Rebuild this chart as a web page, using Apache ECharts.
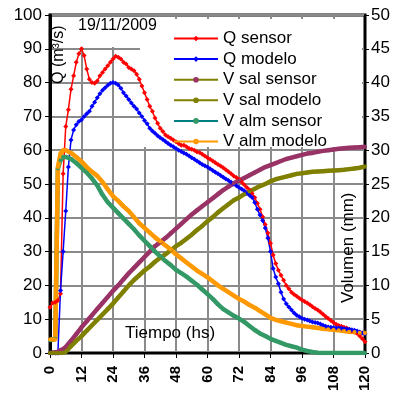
<!DOCTYPE html>
<html>
<head>
<meta charset="utf-8">
<script src="https://cdn.jsdelivr.net/npm/echarts@6/dist/echarts.min.js"></script>
<style>
  html, body { margin: 0; padding: 0; background: #fff; }
  #main { width: 398px; height: 396px; }
</style>
</head>
<body>
<div id="main"></div>
<script>
// horas (eje x)
const hoursQ = Array.from({ length: 121 }, (_, i) => i)
const hoursV = [0, 1, 2, 3, 4, 5, 6].concat(Array.from({ length: 57 }, (_, i) => 8 + 2 * i))

const xTicks = [0, 12, 24, 36, 48, 60, 72, 84, 96, 108, 120]

// caudal (m3/s), eje izquierdo
const qSensor = [
  13.5, 14.8, 15, 15.5, 17.5, 53, 67, 72, 78, 82,
  86, 88.5, 90, 88, 84, 81, 80, 79.8, 80.5, 82,
  83, 84, 85, 86, 87, 87.8, 87.5, 87, 86, 85.5,
  84.5, 84, 83.5, 82.5, 81, 79, 77, 75, 73, 71.5,
  69.5, 68, 66.5, 65.5, 64.5, 64, 63.5, 63, 62.5, 62,
  61.5, 61.5, 61, 60.5, 60.3, 60, 59.5, 59.3, 58.8, 58.3,
  57.8, 57.3, 56.8, 56.3, 55.8, 55.3, 54.8, 54.2, 53.6, 53,
  52.4, 51.9, 51.4, 50.6, 49.8, 49, 48.2, 47.2, 46, 44.3,
  42.5, 40.3, 38, 35.5, 32.5, 29, 26.5, 24.5, 23, 21.5,
  20, 19, 18, 17.3, 16.8, 16.2, 15.7, 15.2, 14.8, 14.3,
  13.7, 13.2, 12.7, 12.1, 11.5, 10.8, 10.2, 9.6, 9, 8.5,
  8.1, 7.9, 7.6, 7.4, 7, 6.6, 6.2, 5.8, 5, 4.2,
  3.3
]
const qModelo = [
  0, 0, 0, 0, 18.5, 30, 42, 55, 63, 66,
  67.5, 68.5, 69, 70, 70.8, 71.5, 73, 74.2, 75.5, 76.7,
  77.7, 78.5, 79.2, 79.8, 80, 79.8, 79.3, 78.3, 77, 76,
  75, 74, 73, 72.2, 71, 70, 68.8, 67.8, 66.5, 65.7,
  65, 64.3, 63.7, 63.2, 62.6, 62, 61.5, 61, 60.5, 60,
  59.6, 59.2, 58.8, 58.3, 57.8, 57.3, 56.8, 56.3, 55.8, 55.4,
  55, 54.5, 54, 53.5, 53, 52.5, 52, 51.5, 51, 50.5,
  50, 49.5, 49, 48.5, 48, 47.3, 46.7, 46, 44.5, 42.5,
  40.8, 39.2, 37, 34, 30, 25, 22.5, 20.5, 18, 16,
  14.6, 13.6, 12.7, 11.8, 11.2, 10.7, 10.3, 10, 9.8, 9.5,
  9.2, 9, 8.9, 8.6, 8.2, 7.9, 7.7, 7.6, 7.5, 7.4,
  7.4, 7.3, 7.2, 7.1, 7, 6.9, 6.7, 6.5, 6.2, 5.9,
  5.7
]

// volumen (mm), eje derecho
const vSalSensor = [
  0, 0.05, 0.1, 0.2, 0.4, 0.6, 0.9,
  1.8, 2.8, 3.8, 4.7, 5.6, 6.5, 7.4, 8.3, 9.2, 10,
  10.9, 11.8, 12.6, 13.4, 14.2, 15, 15.8, 16.4, 17, 17.7,
  18.4, 19.1, 19.8, 20.5, 21.1, 21.7, 22.3, 22.9, 23.5, 24.1,
  24.6, 25.1, 25.5, 25.9, 26.3, 26.7, 27.1, 27.5, 27.8, 28.1,
  28.4, 28.7, 28.9, 29.1, 29.3, 29.5, 29.6, 29.75, 29.9, 30,
  30.1, 30.2, 30.3, 30.35, 30.4, 30.45, 30.5
]
const vSalModelo = [
  0, 0, 0, 0, 0, 0.05, 0.2,
  1, 1.8, 2.5, 3.3, 4.1, 4.9, 5.7, 6.5, 7.3, 8.2,
  9.1, 10, 10.8, 11.5, 12.2, 12.8, 13.5, 14.1, 14.6, 15.2,
  15.8, 16.3, 16.9, 17.5, 18.2, 18.8, 19.5, 20.1, 20.8, 21.4,
  22, 22.6, 23, 23.5, 23.9, 24.3, 24.7, 25, 25.4, 25.7,
  25.9, 26.1, 26.3, 26.5, 26.6, 26.7, 26.8, 26.85, 26.9, 26.95,
  27, 27.05, 27.1, 27.2, 27.3, 27.4, 27.6
]
const vAlmSensor = [
  1.9, 2, 2.1, 27.3, 28.5, 29, 29,
  28.7, 28.1, 27.4, 26.7, 25.8, 24.8, 23.4, 22.3, 21.5, 20.7,
  19.9, 19.1, 18.3, 17.4, 16.6, 15.8, 15, 14.3, 13.6, 13,
  12.3, 11.8, 11.3, 10.7, 10.1, 9.4, 8.7, 8, 7.2, 6.5,
  6, 5.5, 5.1, 4.6, 4, 3.4, 2.9, 2.5, 2.1, 1.8,
  1.5, 1.2, 1, 0.8, 0.5, 0.3, 0.15, 0.05, 0, 0,
  0, 0, 0, 0, 0, 0, 0
]
const vAlmModelo = [
  2, 2, 2, 27.5, 29.5, 30, 30,
  29.6, 29, 28.3, 27.5, 26.8, 26.2, 25.3, 24.2, 23.2, 22.5,
  21.7, 21, 20.1, 19.2, 18.5, 17.8, 17.1, 16.5, 15.9, 15.3,
  14.6, 14, 13.4, 12.8, 12.2, 11.7, 11.2, 10.6, 10, 9.5,
  9, 8.5, 8, 7.6, 7.1, 6.7, 6.2, 5.7, 5.2, 4.9,
  4.7, 4.5, 4.3, 4.1, 4, 3.9, 3.8, 3.7, 3.6, 3.5,
  3.45, 3.35, 3.25, 3.15, 3.1, 3, 2.95
]

const font = 'Liberation Sans, Arial, sans-serif'
const gridColor = '#8a8a8a'

function pairs(xs, ys) {
  return xs.map((x, i) => [x, ys[i]])
}

const myChart = echarts.init(document.getElementById('main'))

const options = {
  animation: false,
  backgroundColor: '#fff',
  textStyle: { fontFamily: font },
  grid: {
    left: 50, right: 33, top: 15, bottom: 43,
    show: true,
    borderColor: '#000',
    borderWidth: 3
  },
  legend: {
    orient: 'vertical',
    left: 168,
    top: 25,
    itemWidth: 44,
    itemHeight: 7,
    itemGap: 3.6,
    selectedMode: false,
    textStyle: { fontSize: 17, color: '#000', fontFamily: font },
    data: [
      { name: 'Q sensor' },
      { name: 'Q modelo' },
      { name: 'V sal sensor', lineStyle: { color: '#808000' } },
      { name: 'V sal modelo' },
      { name: 'V alm sensor', lineStyle: { color: '#008080' } },
      { name: 'V alm modelo' }
    ]
  },
  xAxis: {
    type: 'value',
    min: 0,
    max: 120,
    interval: 12,
    axisLine: { lineStyle: { color: '#000', width: 2 } },
    axisTick: { show: true, length: 5, lineStyle: { color: '#000', width: 1 } },
    axisLabel: {
      rotate: 90,
      margin: 13,
      fontSize: 15,
      fontWeight: 'bold',
      color: '#000',
      fontFamily: font,
      customValues: xTicks
    },
    splitLine: { show: true, lineStyle: { color: gridColor, width: 2 } }
  },
  yAxis: [
    {
      type: 'value',
      min: 0,
      max: 100,
      interval: 10,
      position: 'left',
      axisLine: { show: true, lineStyle: { color: '#000', width: 3 } },
      axisTick: { show: true, length: 5, lineStyle: { color: '#000' } },
      axisLabel: { fontSize: 17, color: '#000', margin: 8, fontFamily: font },
      splitLine: { show: true, lineStyle: { color: gridColor, width: 2 } }
    },
    {
      type: 'value',
      min: 0,
      max: 50,
      interval: 5,
      position: 'right',
      axisLine: { show: true, lineStyle: { color: '#000', width: 2 } },
      axisTick: { show: true, length: 4, lineStyle: { color: '#000' } },
      axisLabel: { fontSize: 17, color: '#000', margin: 6, fontFamily: font },
      splitLine: { show: false }
    }
  ],
  graphic: [
    // cajas blancas del rotulo de fecha y de la leyenda
    { type: 'rect', z: 1, shape: { x: 52, y: 17, width: 108, height: 30 }, style: { fill: '#fff' } },
    { type: 'rect', z: 1, shape: { x: 140, y: 19, width: 222, height: 128 }, style: { fill: '#fff' } },
    {
      type: 'text', z: 10, left: 78, top: 18,
      style: { text: '19/11/2009', font: '16px ' + font, fill: '#000' }
    },
    {
      type: 'text', z: 10, x: 51, y: 84, rotation: Math.PI / 2,
      style: { text: 'Q (m³/s)', font: '16px ' + font, fill: '#000' }
    },
    {
      type: 'text', z: 10, x: 340, y: 303, rotation: Math.PI / 2,
      style: { text: 'Volumen (mm)', font: '17px ' + font, fill: '#000' }
    },
    {
      type: 'text', z: 10, left: 125, top: 325,
      style: { text: 'Tiempo (hs)', font: '17px ' + font, fill: '#000' }
    }
  ],
  series: [
    {
      name: 'Q sensor', type: 'line', yAxisIndex: 0,
      data: pairs(hoursQ, qSensor),
      symbol: 'diamond', symbolSize: 5,
      lineStyle: { color: '#ff0000', width: 1.5 },
      itemStyle: { color: '#ff0000' }
    },
    {
      name: 'Q modelo', type: 'line', yAxisIndex: 0,
      data: pairs(hoursQ, qModelo),
      symbol: 'diamond', symbolSize: 5,
      lineStyle: { color: '#0000ff', width: 1.5 },
      itemStyle: { color: '#0000ff' }
    },
    {
      name: 'V sal sensor', type: 'line', yAxisIndex: 1,
      data: pairs(hoursV, vSalSensor),
      symbol: 'circle', symbolSize: 4,
      lineStyle: { color: '#993366', width: 4.5 },
      itemStyle: { color: '#993366' }
    },
    {
      name: 'V sal modelo', type: 'line', yAxisIndex: 1,
      data: pairs(hoursV, vSalModelo),
      symbol: 'circle', symbolSize: 4,
      lineStyle: { color: '#808000', width: 4.5 },
      itemStyle: { color: '#808000' }
    },
    {
      name: 'V alm sensor', type: 'line', yAxisIndex: 1,
      data: pairs(hoursV, vAlmSensor),
      symbol: 'circle', symbolSize: 4,
      lineStyle: { color: '#339966', width: 4.5 },
      itemStyle: { color: '#339966' }
    },
    {
      name: 'V alm modelo', type: 'line', yAxisIndex: 1,
      data: pairs(hoursV, vAlmModelo),
      symbol: 'circle', symbolSize: 4,
      lineStyle: { color: '#ff9900', width: 4.5 },
      itemStyle: { color: '#ff9900' }
    }
  ]
}

myChart.setOption(options)
</script>
</body>
</html>
